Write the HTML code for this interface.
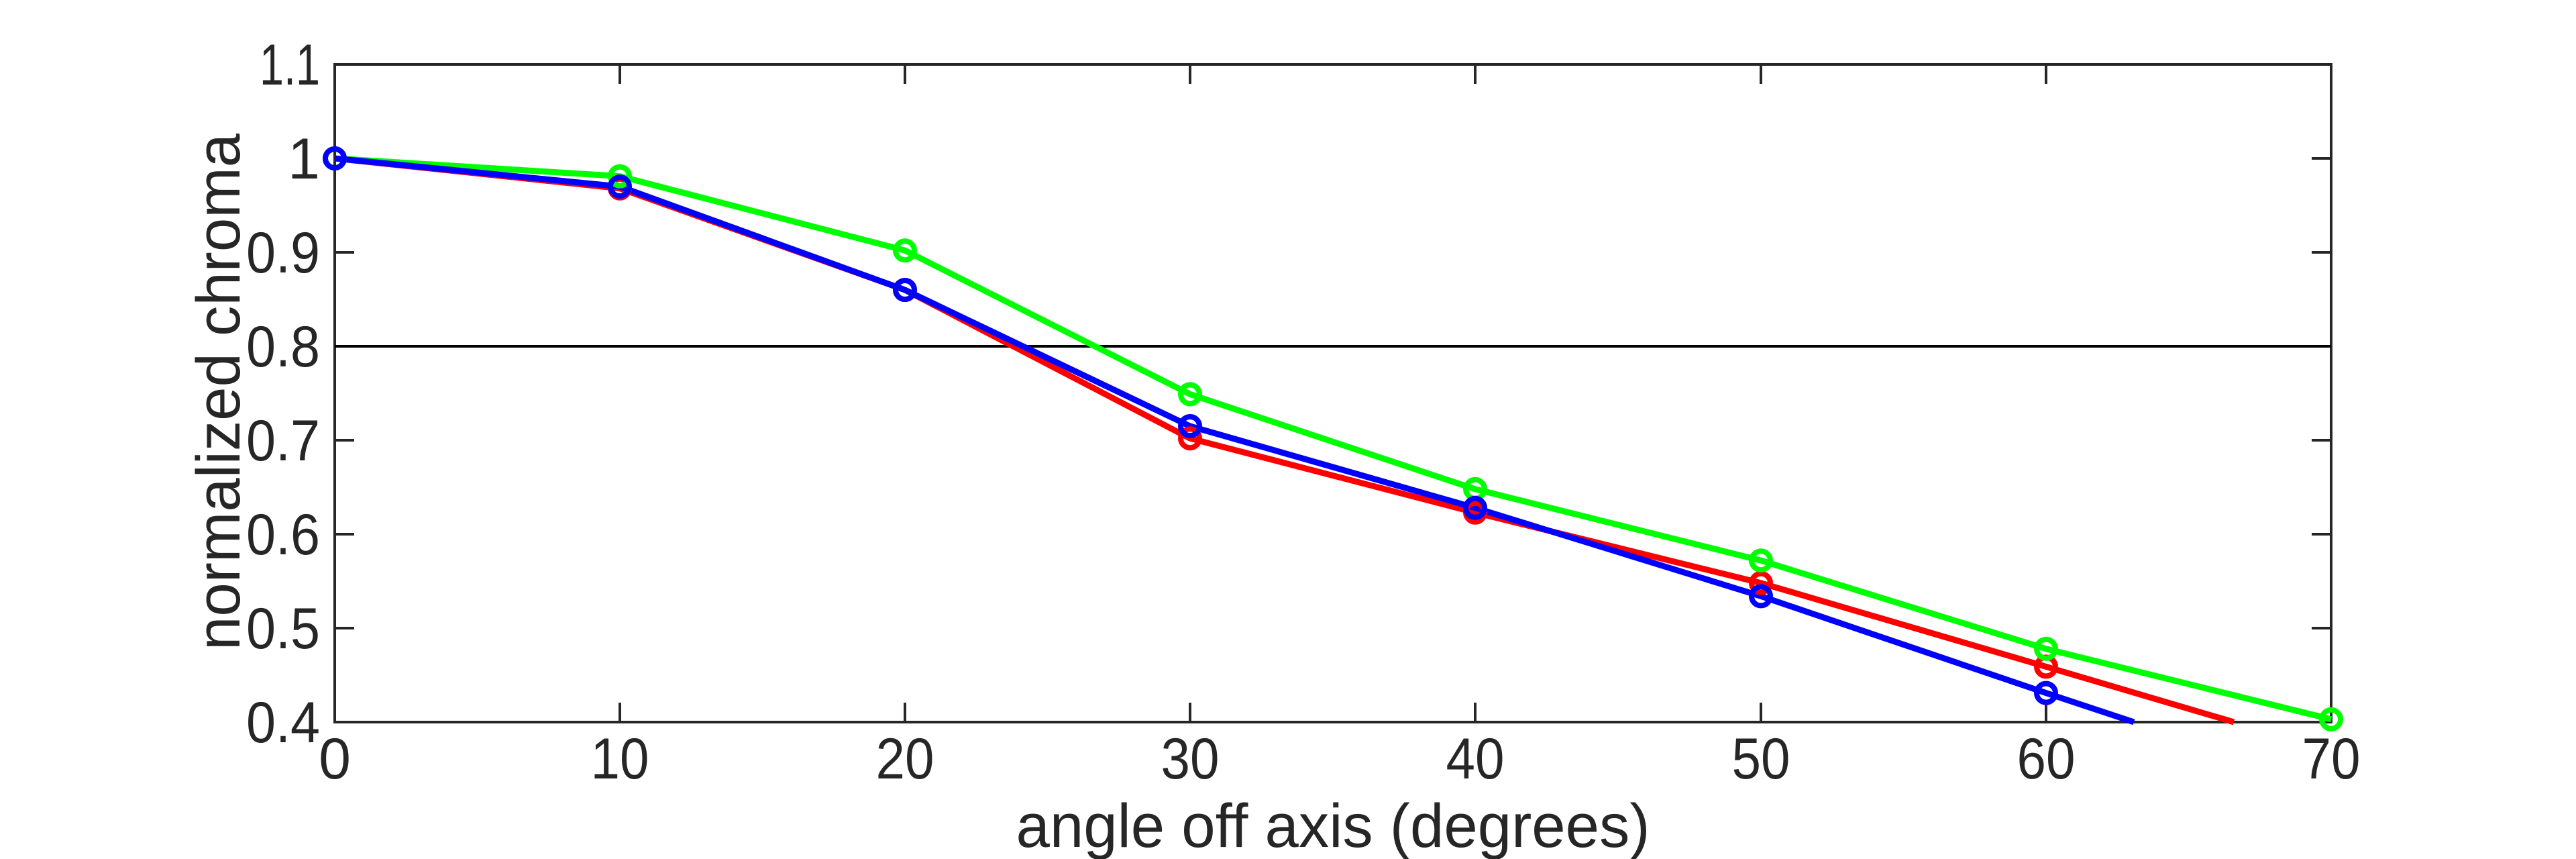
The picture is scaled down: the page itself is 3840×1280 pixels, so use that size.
<!DOCTYPE html>
<html><head><meta charset="utf-8"><style>
html,body{margin:0;padding:0;background:#fff;}
svg{display:block;}
text{font-family:"Liberation Sans",sans-serif;fill:#262626;}
</style></head><body>
<svg width="3840" height="1280" viewBox="0 0 3840 1280" xmlns="http://www.w3.org/2000/svg">
<rect width="3840" height="1280" fill="#fff"/>
<g stroke="#262626" stroke-width="4" fill="none">
<rect x="499" y="96" width="2976" height="980"/>
<path d="M499 236H528M499 376H528M499 516H528M499 656H528M499 796H528M499 936H528
M3475 236H3446M3475 376H3446M3475 516H3446M3475 656H3446M3475 796H3446M3475 936H3446
M924 1076V1047M1349 1076V1047M1774 1076V1047M2199 1076V1047M2625 1076V1047M3050 1076V1047
M924 96V125M1349 96V125M1774 96V125M2199 96V125M2625 96V125M3050 96V125"/>
</g>
<line x1="499" y1="516" x2="3475" y2="516" stroke="#000" stroke-width="4"/>
<g font-size="86" text-anchor="end" lengthAdjust="spacingAndGlyphs">
<text x="477" y="126" textLength="90" lengthAdjust="spacingAndGlyphs">1.1</text>
<text x="477" y="266">1</text>
<text x="477" y="406" textLength="110" lengthAdjust="spacingAndGlyphs">0.9</text>
<text x="477" y="546" textLength="110" lengthAdjust="spacingAndGlyphs">0.8</text>
<text x="477" y="686" textLength="110" lengthAdjust="spacingAndGlyphs">0.7</text>
<text x="477" y="826" textLength="110" lengthAdjust="spacingAndGlyphs">0.6</text>
<text x="477" y="966" textLength="110" lengthAdjust="spacingAndGlyphs">0.5</text>
<text x="477" y="1106" textLength="110" lengthAdjust="spacingAndGlyphs">0.4</text>
</g>
<g font-size="86" text-anchor="middle">
<text x="499" y="1160">0</text>
<text x="924" y="1160" textLength="87" lengthAdjust="spacingAndGlyphs">10</text>
<text x="1349" y="1160" textLength="87" lengthAdjust="spacingAndGlyphs">20</text>
<text x="1774" y="1160" textLength="87" lengthAdjust="spacingAndGlyphs">30</text>
<text x="2199" y="1160" textLength="87" lengthAdjust="spacingAndGlyphs">40</text>
<text x="2625" y="1160" textLength="87" lengthAdjust="spacingAndGlyphs">50</text>
<text x="3050" y="1160" textLength="87" lengthAdjust="spacingAndGlyphs">60</text>
<text x="3475" y="1160" textLength="87" lengthAdjust="spacingAndGlyphs">70</text>
<text x="1987" y="1262" font-size="92" textLength="945" lengthAdjust="spacingAndGlyphs">angle off axis (degrees)</text>
<text transform="translate(357,584) rotate(-90)" font-size="92" textLength="770" lengthAdjust="spacingAndGlyphs">normalized chroma</text>
</g>
<g fill="none" stroke-width="9" stroke-linejoin="round">
<polyline stroke="#ff0000" points="499,236 924,280.8 1349,432 1774,653.2 2199,763.8 2625,868.8 3050,993.4 3330,1076"/>
<polyline stroke="#00ff00" points="499,236 924,262.6 1349,373.2 1774,587.4 2199,728.8 2625,835.2 3050,966.8 3475,1071.8"/>
<polyline stroke="#0000ff" points="499,236 924,278 1349,432 1774,635 2199,756.8 2625,888.4 3050,1032.6 3181,1076"/>
</g>
<g fill="none" stroke-width="8">
<g stroke="#ff0000">
<circle cx="499" cy="236" r="14"/><circle cx="924" cy="280.8" r="14"/><circle cx="1349" cy="432" r="14"/><circle cx="1774" cy="653.2" r="14"/><circle cx="2199" cy="763.8" r="14"/><circle cx="2625" cy="868.8" r="14"/><circle cx="3050" cy="993.4" r="14"/>
</g>
<g stroke="#00ff00">
<circle cx="499" cy="236" r="14"/><circle cx="924" cy="262.6" r="14"/><circle cx="1349" cy="373.2" r="14"/><circle cx="1774" cy="587.4" r="14"/><circle cx="2199" cy="728.8" r="14"/><circle cx="2625" cy="835.2" r="14"/><circle cx="3050" cy="966.8" r="14"/><circle cx="3475" cy="1071.8" r="14"/>
</g>
<g stroke="#0000ff">
<circle cx="499" cy="236" r="14"/><circle cx="924" cy="278" r="14"/><circle cx="1349" cy="432" r="14"/><circle cx="1774" cy="635" r="14"/><circle cx="2199" cy="756.8" r="14"/><circle cx="2625" cy="888.4" r="14"/><circle cx="3050" cy="1032.6" r="14"/>
</g>
</g>
</svg>
</body></html>
